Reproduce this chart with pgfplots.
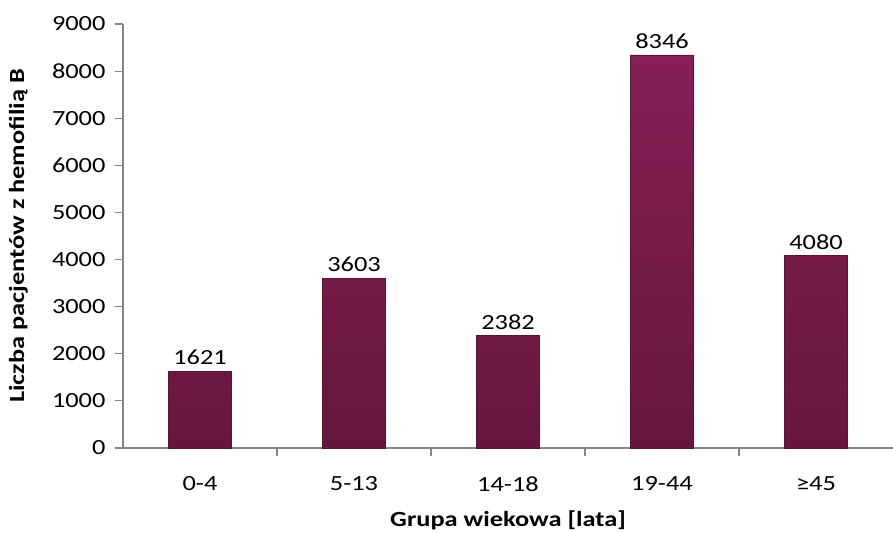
\documentclass[border=0pt]{standalone}
\usepackage{pgfplots}
\pgfplotsset{compat=1.18}
\usepackage{fontspec}
\setmainfont{Carlito}
\newfontfamily\calf{Carlito}[FakeStretch=1.22]
\newcommand\chfont{\calf\fontsize{21.7}{26}\selectfont}
\definecolor{axgray}{RGB}{134,134,134}
\definecolor{bartop}{RGB}{135,32,85}
\definecolor{barbot}{RGB}{102,22,62}
\definecolor{baredge}{RGB}{90,18,55}
\begin{document}
\begin{tikzpicture}
\path[use as bounding box] (-123bp,-85bp) rectangle (770bp,448bp);
\begin{axis}[
  at={(0,0)}, anchor=south west,
  scale only axis, width=770bp, height=424bp,
  xmin=-0.5, xmax=4.5, ymin=0, ymax=9000,
  axis x line=bottom, axis y line=left,
  axis line style={-, draw=axgray, line width=1.2bp},
  xtick={0,1,2,3,4},
  xticklabels={0-4,5-13,14-18,19-44,≥45},
  minor xtick={0.5,1.5,2.5,3.5},
  xtick style={draw=none},
  minor x tick style={draw=axgray, line width=1.2bp},
  ytick={0,1000,2000,3000,4000,5000,6000,7000,8000,9000},
  yticklabels={0,1000,2000,3000,4000,5000,6000,7000,8000,9000},
  ytick style={draw=axgray, line width=1.2bp},
  tick align=outside,
  major tick length=8bp, minor tick length=8bp,
  tick label style={font=\chfont, black},
  xticklabel style={yshift=-17bp},
  yticklabel style={xshift=-6bp},
  ylabel={\bfseries Liczba pacjentów z hemofilią B},
  ylabel style={font=\chfont, at={(axis description cs:-0.136,0.5)}, anchor=center},
  xlabel={\bfseries Grupa wiekowa [lata]},
  xlabel style={font=\chfont, at={(axis description cs:0.5,-0.17)}, anchor=center},
  ybar, bar width=0.41,
  point meta=explicit symbolic,
  nodes near coords,
  every node near coord/.append style={font=\chfont, black, yshift=3bp},
  clip=false,
]
\addplot[draw=baredge, line width=0.6bp, top color=bartop, bottom color=barbot]
  coordinates {(0,1621)[1621] (1,3603)[3603] (2,2382)[2382] (3,8346)[8346] (4,4080)[4080]};
\end{axis}
\end{tikzpicture}
\end{document}
